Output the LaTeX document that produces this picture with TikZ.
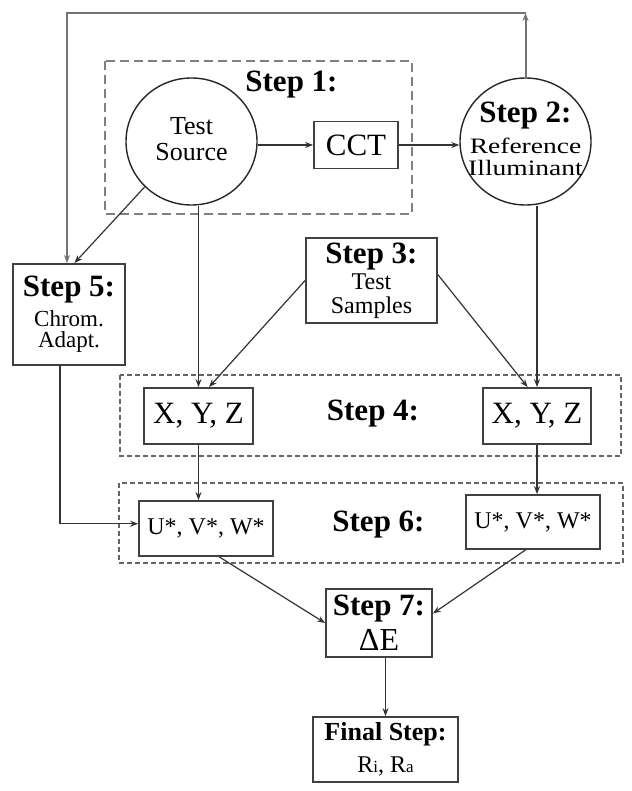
\documentclass[tikz,border=0pt]{standalone}
\usepackage{fontspec}
\setmainfont{Liberation Serif}
\newfontfamily\widefont{Liberation Serif}[FakeStretch=1.25]
\usetikzlibrary{arrows.meta,shapes.geometric,positioning}
\newcommand\stepfont{\fontsize{15.5}{18}\selectfont\bfseries}
\newcommand\flowfont[2]{\fontsize{#1}{#2}\selectfont\lineskiplimit=-\maxdimen}
\tikzset{
	cie flow/.style={x=.5pt, y=-.5pt, line join=miter},
	stepbox/.style 2 args={draw=black!75, line width=.9pt, align=center,
		inner sep=0pt, minimum width=#1, minimum height=#2},
	stepcircle/.style={ellipse, draw=black!85, line width=.7pt, inner sep=0pt,
		minimum width=65.5pt, minimum height=63.5pt},
	steptext/.style={align=center, inner sep=0pt},
	steplabel/.style={anchor=base, inner sep=0pt, font=\stepfont},
	ar/.style={draw=black!80, line width=.6pt, -{Stealth[length=4pt,width=3pt]}},
	loopline/.style={draw=black!55, line width=1pt},
	frame long/.style={draw=black!50, line width=1pt, dash pattern=on 4.5pt off 2.5pt},
	frame short/.style={draw=black!60, line width=.8pt, dash pattern=on 2.5pt off 1.5pt}
}

\begin{document}
\begin{tikzpicture}[cie flow]
	\useasboundingbox (0,0) rectangle (631,791);
	% dashed frames
	\draw[frame long] (105,61) rectangle (412,214);
	\draw[frame short] (120,375) rectangle (621,456);
	\draw[frame short] (119,483) rectangle (623,563);
	\node[steplabel] (step1) at (291.5,92) {Step 1:};
	\node[steplabel] (step4) at (373,420) {Step 4:};
	\node[steplabel] (step6) at (378.5,531) {Step 6:};
	% sources
	\node[stepcircle] (src) at (191.5,141.5) {};
	\node[steptext, font=\flowfont{13}{13}] (srcText) at (191.5,139) {Test\\Source};
	\node[stepbox={42pt}{23.5pt}, font=\flowfont{15.5}{18}] (cct) at (356,145) {CCT};
	\node[stepcircle] (ref) at (525.5,141.5) {};
	\node[steptext, font=\flowfont{11}{11}] (refText) at (525.5,139)
		{{\stepfont Step 2:}\\[4.5pt]{\widefont Reference}\\{\widefont Illuminant}};
	% steps
	\node[stepbox={65.5pt}{42.5pt}, font=\flowfont{12}{12}] (step3) at (371.5,280.5)
		{{\stepfont Step 3:}\\[1pt]Test\\Samples};
	\node[stepbox={56pt}{50.5pt}, font=\flowfont{11.5}{10.5}] (step5) at (69,314.5)
		{{\stepfont Step 5:}\\[4.5pt]Chrom.\\Adapt.};
	\node[stepbox={54.5pt}{28pt}, font=\flowfont{15.5}{18}] (xyzL) at (198.5,416) {X, Y, Z};
	\node[stepbox={54pt}{28pt}, font=\flowfont{15.5}{18}] (xyzR) at (537,416) {X, Y, Z};
	\node[stepbox={67pt}{27.5pt}, font=\flowfont{12}{14}] (uvwL) at (206,528.5) {U*, V*, W*};
	\node[stepbox={67pt}{27pt}, font=\flowfont{12}{14}] (uvwR) at (533,522) {U*, V*, W*};
	\node[stepbox={53pt}{34pt}, font=\flowfont{16}{17.5}] (step7) at (379,623)
		{{\stepfont Step 7:}\\ΔE};
	\node[stepbox={72.5pt}{32.5pt}, font=\flowfont{12}{16}] (final) at (385.5,749.5)
		{{\fontsize{13}{16}\selectfont\bfseries Final Step:}\\R{\fontsize{8.5}{8}\selectfont i}, R{\fontsize{8.5}{8}\selectfont a}};
	% connectors
	\coordinate (loopTop) at (67,13);
	\draw[ar] (src.east |- cct.west) -- (cct.west);
	\draw[ar] (cct.east) -- (ref.west |- cct.east);
	\draw[ar, loopline] (ref.north) -- (ref.north |- loopTop);
	\draw[ar, loopline] (ref.north |- loopTop) -- (loopTop) -- (loopTop |- step5.north);
	\draw[ar] (src.south west) -- (step5.84);
	\draw[ar] (xyzL.north |- src.south) -- (xyzL.north);
	\draw[ar] (xyzR.north |- ref.south) -- (xyzR.north);
	\draw[ar] (step3.west) -- (xyzL.70);
	\draw[ar] (step3.5) -- (xyzR.108);
	\draw[ar] (xyzL.south) -- (xyzL.south |- uvwL.north);
	\draw[ar] (xyzR.south) -- (xyzR.south |- uvwR.north);
	\draw[ar] (step5.260) |- (uvwL.176);
	\draw[ar] (uvwL.295) -- (step7.west);
	\draw[ar] (uvwR.255) -- (step7.10);
	\draw[ar] (final.north |- step7.south) -- (final.north);
\end{tikzpicture}
\end{document}
